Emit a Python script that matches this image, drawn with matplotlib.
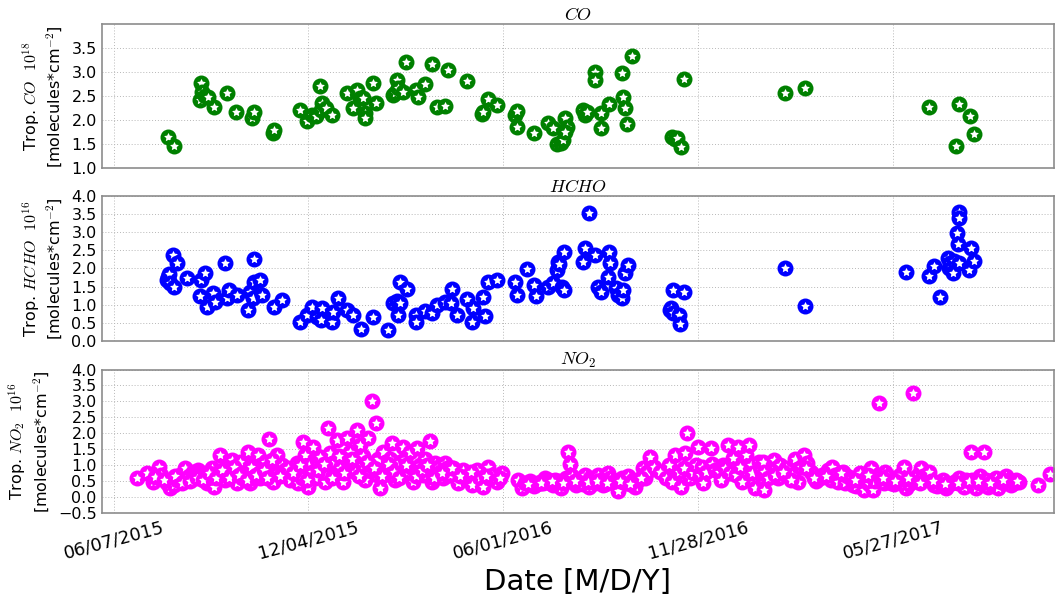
import datetime as dt
import matplotlib
matplotlib.use("Agg")
import matplotlib.pyplot as plt
import matplotlib.dates as mdates
from matplotlib.path import Path

plt.rcParams['mathtext.fontset'] = 'cm'
plt.rcParams['font.family'] = 'DejaVu Sans'

# all *_day lists are days counted from this date
start = dt.date(2015, 6, 7)

co_day = [50, 56, 80, 81, 82, 84, 87, 93, 105, 113,
          128, 130, 147, 148, 172, 179, 183, 187, 191, 192,
          193, 196, 202, 216, 221, 225, 228, 230, 232, 232,
          240, 242, 258, 260, 262, 263, 267, 270, 279, 281,
          288, 294, 299, 306, 309, 327, 340, 341, 346, 354,
          371, 373, 373, 388, 401, 406, 410, 413, 415, 417,
          419, 417, 434, 436, 437, 445, 445, 450, 450, 458,
          470, 471, 473, 474, 479, 516, 519, 521, 524, 527,
          620, 639, 753, 778, 781, 791, 795]
co_val = [1.64, 1.45, 2.41, 2.76, 2.58, 2.5, 2.48, 2.26, 2.56, 2.16,
          2.03, 2.16, 1.72, 1.78, 2.2, 1.98, 2.1, 2.08, 2.7, 2.2,
          2.35, 2.25, 2.1, 2.56, 2.24, 2.62, 2.45, 2.45, 2.14, 2.03,
          2.76, 2.35, 2.51, 2.55, 2.83, 2.66, 2.58, 3.2, 2.62, 2.48,
          2.74, 3.16, 2.27, 2.28, 3.04, 2.81, 2.13, 2.16, 2.43, 2.3,
          2.1, 2.18, 1.85, 1.72, 1.93, 1.83, 1.49, 1.53, 1.58, 2.03,
          1.85, 1.75, 2.2, 2.1, 2.17, 3.0, 2.83, 2.14, 1.83, 2.32,
          2.97, 2.48, 2.24, 1.91, 3.33, 1.64, 1.6, 1.62, 1.43, 2.84,
          2.56, 2.66, 2.26, 1.45, 2.32, 2.08, 1.7]

hcho_day = [49, 50, 51, 52, 55, 56, 59, 68, 80, 81,
            84, 86, 92, 94, 103, 105, 107, 114, 124, 126,
            129, 130, 130, 135, 137, 148, 156, 172, 179, 183,
            188, 192, 193, 202, 203, 207, 216, 221, 229, 240,
            254, 258, 262, 263, 265, 265, 271, 279, 279, 288,
            294, 299, 306, 312, 313, 317, 327, 331, 332, 341,
            343, 346, 354, 371, 373, 382, 388, 390, 401, 406,
            410, 411, 412, 414, 416, 416, 434, 436, 439, 445,
            448, 450, 457, 458, 459, 464, 466, 470, 471, 473,
            475, 514, 515, 517, 517, 522, 523, 527, 620, 639,
            732, 753, 758, 764, 771, 772, 773, 776, 777, 779,
            780, 781, 781, 781, 790, 792, 795]
hcho_val = [1.68, 1.77, 1.85, 1.6, 2.37, 1.49, 2.15, 1.74, 1.24, 1.68,
            1.87, 0.94, 1.32, 1.08, 2.15, 1.18, 1.4, 1.27, 0.85, 1.36,
            1.18, 2.26, 1.63, 1.68, 1.27, 0.94, 1.12, 0.52, 0.72, 0.94,
            0.66, 0.58, 0.9, 0.52, 0.8, 1.18, 0.85, 0.72, 0.33, 0.66,
            0.3, 1.04, 1.1, 0.72, 1.63, 1.04, 1.43, 0.72, 0.52, 0.82,
            0.76, 0.98, 1.08, 1.04, 1.43, 0.72, 1.15, 0.52, 0.9, 1.21,
            0.69, 1.63, 1.68, 1.63, 1.27, 1.99, 1.54, 1.24, 1.49, 1.6,
            1.96, 2.18, 2.13, 1.5, 2.46, 1.4, 2.18, 2.56, 3.54, 2.37,
            1.49, 1.36, 1.77, 2.46, 2.15, 1.46, 1.27, 1.18, 1.4, 1.87,
            2.1, 0.85, 0.9, 1.4, 0.76, 0.72, 0.47, 1.36, 2.01, 0.96,
            1.9, 1.8, 2.07, 1.22, 2.3, 2.02, 2.15, 1.87, 2.2, 2.98,
            2.68, 3.57, 3.4, 2.15, 1.96, 2.57, 2.21]

no2_day = [22, 31, 36, 42, 44, 49, 52, 54, 56, 59,
           61, 64, 66, 68, 70, 73, 75, 78, 80, 81,
           84, 86, 89, 91, 93, 96, 98, 101, 103, 105,
           109, 112, 114, 117, 119, 121, 124, 126, 128, 130,
           133, 135, 137, 140, 143, 144, 147, 149, 151, 152,
           156, 158, 160, 163, 169, 170, 174, 175, 177, 180,
           181, 183, 184, 186, 188, 191, 192, 195, 197, 198,
           200, 203, 205, 206, 209, 212, 214, 216, 218, 221,
           223, 225, 228, 230, 230, 232, 235, 237, 239, 242,
           243, 244, 246, 249, 251, 253, 255, 257, 260, 263,
           265, 267, 269, 271, 274, 276, 277, 280, 281, 283,
           286, 288, 291, 292, 294, 297, 300, 302, 304, 306,
           308, 309, 311, 314, 318, 323, 327, 331, 336, 339,
           341, 346, 350, 354, 359, 374, 377, 380, 385, 388,
           391, 394, 397, 399, 402, 403, 406, 408, 411, 413,
           416, 418, 420, 422, 424, 427, 429, 431, 434, 436,
           439, 440, 443, 445, 448, 450, 452, 454, 457, 459,
           461, 464, 466, 470, 473, 475, 478, 480, 482, 485,
           489, 491, 493, 496, 499, 505, 510, 513, 516, 519,
           522, 524, 527, 528, 530, 533, 535, 538, 540, 542,
           544, 545, 547, 552, 553, 556, 559, 561, 563, 565,
           568, 570, 572, 575, 577, 579, 581, 584, 587, 589,
           590, 593, 596, 598, 600, 600, 601, 601, 605, 610,
           612, 614, 616, 621, 624, 627, 630, 632, 635, 638,
           641, 644, 649, 653, 655, 660, 663, 664, 667, 669,
           674, 676, 678, 681, 683, 686, 688, 690, 693, 695,
           698, 700, 702, 704, 707, 709, 712, 713, 716, 718,
           721, 723, 726, 727, 730, 732, 735, 737, 739, 741,
           743, 746, 748, 751, 753, 755, 758, 761, 764, 766,
           769, 772, 775, 778, 781, 783, 786, 788, 792, 793,
           797, 800, 801, 804, 806, 808, 811, 813, 815, 817,
           820, 823, 825, 827, 829, 832, 834, 837, 854, 865,
           38, 47, 57, 63, 71, 77, 83, 88, 95, 100,
           107, 111, 116, 123, 127, 132, 139, 142, 146, 154,
           161, 166, 172, 179, 189, 194, 202, 208, 213, 220,
           227, 234, 241, 248, 254, 259, 264, 270, 279, 285,
           290, 296, 303, 313, 320, 330, 344, 357, 383, 395,
           405, 415, 426, 438, 447, 456, 468, 477, 487, 611,
           619, 626, 640, 647, 658, 672, 685, 697, 711, 722,
           734, 745, 757, 768, 780, 790, 799, 810, 822, 835]
no2_val = [0.59, 0.75, 0.49, 0.96, 0.7, 0.44, 0.28, 0.5, 0.39, 0.55,
           0.7, 0.6, 0.91, 0.59, 0.65, 0.8, 0.7, 0.85, 0.75, 0.65,
           0.7, 0.44, 0.6, 0.91, 0.33, 0.75, 1.32, 0.7, 0.55, 1.01,
           1.17, 0.75, 0.44, 1.11, 0.6, 0.8, 1.41, 0.44, 0.85, 1.01,
           1.32, 0.6, 0.7, 1.11, 0.9, 1.82, 0.49, 1.0, 1.32, 0.8,
           1.01, 0.85, 0.7, 0.55, 1.06, 0.44, 0.6, 1.74, 1.32, 0.33,
           1.0, 0.8, 1.58, 0.6, 1.17, 1.25, 0.96, 0.49, 0.75, 2.16,
           1.38, 0.7, 1.1, 1.79, 0.91, 0.49, 1.25, 1.84, 1.43, 1.01,
           0.8, 2.1, 1.64, 1.3, 1.01, 0.54, 1.84, 1.0, 3.02, 2.33,
           0.7, 1.2, 0.28, 1.43, 0.75, 0.91, 1.2, 1.69, 0.54, 0.8,
           1.11, 1.58, 1.2, 0.8, 1.43, 0.9, 0.49, 1.53, 0.75, 1.01,
           0.7, 1.2, 0.9, 1.76, 0.49, 1.06, 0.95, 0.8, 0.6, 1.06,
           0.9, 0.7, 0.7, 0.91, 0.44, 0.85, 0.59, 0.39, 0.85, 0.59,
           0.33, 0.96, 0.7, 0.49, 0.75, 0.54, 0.28, 0.45, 0.5, 0.36,
           0.4, 0.49, 0.45, 0.59, 0.55, 0.44, 0.38, 0.54, 0.5, 0.28,
           0.44, 0.6, 1.41, 1.04, 0.65, 0.39, 0.45, 0.54, 0.4, 0.7,
           0.33, 0.6, 0.54, 0.45, 0.7, 0.55, 0.39, 0.4, 0.75, 0.6,
           0.49, 0.5, 0.18, 0.59, 0.45, 0.65, 0.44, 0.55, 0.33, 0.54,
           0.91, 0.6, 0.8, 1.27, 0.96, 0.8, 0.6, 1.01, 0.49, 1.32,
           0.8, 0.33, 0.91, 1.38, 2.0, 0.6, 0.75, 1.0, 1.58, 0.7,
           0.96, 0.44, 0.8, 1.53, 1.05, 0.85, 0.8, 0.54, 1.0, 0.91,
           1.64, 0.75, 1.22, 0.7, 1.58, 0.95, 0.49, 1.32, 1.64, 1.01,
           0.75, 0.28, 1.11, 0.85, 0.59, 1.11, 0.8, 0.23, 0.6, 1.17,
           0.91, 0.59, 1.0, 0.91, 0.7, 0.7, 1.19, 0.49, 0.95, 1.32,
           1.06, 0.8, 0.5, 0.59, 0.7, 0.85, 0.55, 0.96, 0.7, 0.49,
           0.8, 0.45, 0.65, 0.6, 0.39, 0.35, 0.54, 0.75, 0.23, 0.6,
           0.4, 0.93, 0.23, 0.5, 2.96, 0.54, 0.45, 0.8, 0.65, 0.44,
           0.4, 0.59, 0.5, 0.7, 0.96, 0.28, 0.4, 0.54, 3.28, 0.5,
           0.7, 0.91, 0.65, 0.59, 0.8, 0.5, 0.39, 0.35, 0.44, 0.55,
           0.28, 0.4, 0.44, 0.5, 0.59, 0.45, 0.33, 0.55, 1.43, 0.54,
           0.28, 0.45, 0.65, 1.43, 0.55, 0.33, 0.4, 0.54, 0.6, 0.28,
           0.49, 0.45, 0.65, 0.55, 0.39, 0.45, 0.54, 0.49, 0.39, 0.72,
           0.62, 0.55, 0.65, 0.45, 0.5, 0.6, 0.55, 0.75, 0.6, 0.85,
           0.6, 0.95, 0.7, 0.55, 0.95, 0.7, 0.85, 0.6, 1.15, 0.65,
           0.9, 0.75, 1.0, 0.55, 0.85, 1.05, 0.6, 1.3, 0.75, 1.2,
           0.65, 1.1, 0.9, 0.65, 1.05, 0.8, 0.6, 1.0, 0.65, 0.85,
           1.0, 0.6, 0.75, 0.9, 0.65, 0.8, 0.65, 0.6, 0.4, 0.45,
           0.5, 0.45, 0.5, 0.48, 0.5, 0.45, 0.52, 0.4, 0.6, 0.7,
           0.8, 0.55, 0.9, 0.6, 0.65, 0.75, 0.55, 0.7, 0.6, 0.5,
           0.6, 0.45, 0.5, 0.4, 0.45, 0.5, 0.5, 0.45, 0.55, 0.5]

tick_day = [0, 180, 360, 540, 720]

# five-point star a bit fatter than the built-in '*'
fat_star = Path.unit_regular_star(5, 0.5)


def to_dates(days):
    return [start + dt.timedelta(days=d) for d in days]


def panel(ax, days, vals, color, name, exponent, yticks, ylim):
    # ring + white star per measurement, drawn point by point so overlaps stack
    for d, v in zip(to_dates(days), vals):
        ax.plot([d], [v], 'o', color=color, ms=11.5, mew=0)
        ax.plot([d], [v], marker=fat_star, ls='none', color='white', ms=6.6, mew=0)
    ax.set_title('$' + name + '$', fontsize=13, pad=3)
    ax.set_ylabel('Trop. $' + name + '$  $10^{' + exponent + '}$\n[molecules*cm$^{-2}$]',
                  fontsize=11.5, labelpad=5)
    ax.set_yticks(yticks)
    ax.set_ylim(ylim)
    ax.grid(True, ls=(0, (1, 2)), color='0.72', lw=0.7)
    ax.tick_params(length=0, labelsize=11.5)
    for s in ax.spines.values():
        s.set_color('0.55')
        s.set_linewidth(1.2)


fig = plt.figure(figsize=(10.55, 5.96), dpi=100)
ax1 = fig.add_axes([0.0964, 0.718, 0.9027, 0.241])
ax2 = fig.add_axes([0.0964, 0.428, 0.9027, 0.243], sharex=ax1)
ax3 = fig.add_axes([0.0964, 0.139, 0.9027, 0.241], sharex=ax1)

panel(ax1, co_day, co_val, 'green', 'CO', '18',
      [1.0, 1.5, 2.0, 2.5, 3.0, 3.5], (1.0, 3.98))
panel(ax2, hcho_day, hcho_val, 'blue', 'HCHO', '16',
      [0.0, 0.5, 1.0, 1.5, 2.0, 2.5, 3.0, 3.5, 4.0], (0.0, 4.0))
panel(ax3, no2_day, no2_val, '#ff00ff', 'NO_2', '16',
      [-0.5, 0.0, 0.5, 1.0, 1.5, 2.0, 2.5, 3.0, 3.5, 4.0], (-0.5, 4.0))

ax3.set_xticks(to_dates(tick_day))
ax3.xaxis.set_major_formatter(mdates.DateFormatter('%m/%d/%Y'))
ax3.set_xlim(start - dt.timedelta(days=11), start + dt.timedelta(days=869))
ax1.tick_params(labelbottom=False)
ax2.tick_params(labelbottom=False)
ax3.tick_params(axis='x', labelsize=13)
plt.setp(ax3.get_xticklabels(), rotation=15, ha='center')
ax3.set_xlabel('Date [M/D/Y]', fontsize=21)

fig.savefig('out.png', dpi=100)
